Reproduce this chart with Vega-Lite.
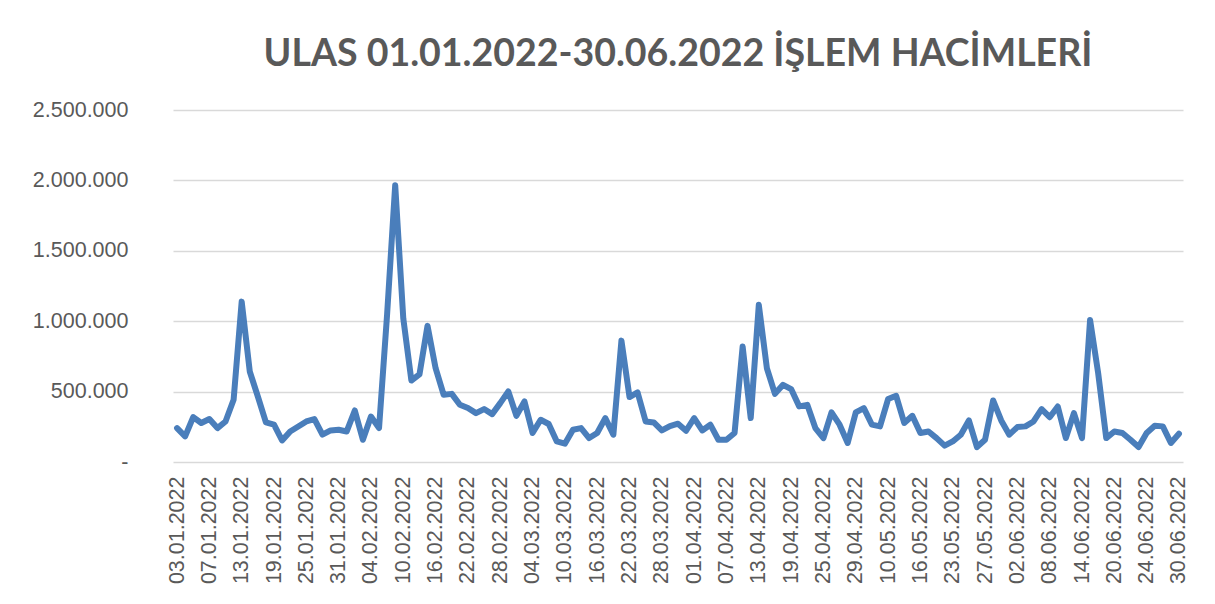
{
  "$schema": "https://vega.github.io/schema/vega-lite/v6.json",
  "width": 1010,
  "height": 352,
  "autosize": {"type": "none"},
  "padding": {"left": 173, "top": 110, "right": 32, "bottom": 142},
  "background": "white",
  "config": {
    "locale": {"number": {"decimal": ",", "thousands": ".", "grouping": [3], "currency": ["", ""]}},
    "view": {"stroke": null}
  },
  "title": {
    "text": "ULAS 01.01.2022-30.06.2022 İŞLEM HACİMLERİ",
    "font": "Lato",
    "fontSize": 37.5,
    "fontWeight": "bold",
    "color": "#595959",
    "anchor": "middle",
    "frame": "group",
    "baseline": "alphabetic",
    "offset": -4
  },
  "data": {
    "values": [
      {"tarih": "03.01.2022", "hacim": 241000},
      {"tarih": "04.01.2022", "hacim": 182000},
      {"tarih": "05.01.2022", "hacim": 319000},
      {"tarih": "06.01.2022", "hacim": 277000},
      {"tarih": "07.01.2022", "hacim": 305000},
      {"tarih": "10.01.2022", "hacim": 241000},
      {"tarih": "11.01.2022", "hacim": 288000},
      {"tarih": "12.01.2022", "hacim": 442000},
      {"tarih": "13.01.2022", "hacim": 1139000},
      {"tarih": "14.01.2022", "hacim": 643000},
      {"tarih": "17.01.2022", "hacim": 465000},
      {"tarih": "18.01.2022", "hacim": 281000},
      {"tarih": "19.01.2022", "hacim": 265000},
      {"tarih": "20.01.2022", "hacim": 153000},
      {"tarih": "21.01.2022", "hacim": 217000},
      {"tarih": "24.01.2022", "hacim": 252000},
      {"tarih": "25.01.2022", "hacim": 288000},
      {"tarih": "26.01.2022", "hacim": 305000},
      {"tarih": "27.01.2022", "hacim": 194000},
      {"tarih": "28.01.2022", "hacim": 224000},
      {"tarih": "31.01.2022", "hacim": 229000},
      {"tarih": "01.02.2022", "hacim": 217000},
      {"tarih": "02.02.2022", "hacim": 366000},
      {"tarih": "03.02.2022", "hacim": 158000},
      {"tarih": "04.02.2022", "hacim": 323000},
      {"tarih": "07.02.2022", "hacim": 241000},
      {"tarih": "08.02.2022", "hacim": 1050000},
      {"tarih": "09.02.2022", "hacim": 1966000},
      {"tarih": "10.02.2022", "hacim": 1020000},
      {"tarih": "11.02.2022", "hacim": 579000},
      {"tarih": "14.02.2022", "hacim": 622000},
      {"tarih": "15.02.2022", "hacim": 967000},
      {"tarih": "16.02.2022", "hacim": 666000},
      {"tarih": "17.02.2022", "hacim": 477000},
      {"tarih": "18.02.2022", "hacim": 484000},
      {"tarih": "21.02.2022", "hacim": 406000},
      {"tarih": "22.02.2022", "hacim": 383000},
      {"tarih": "23.02.2022", "hacim": 347000},
      {"tarih": "24.02.2022", "hacim": 376000},
      {"tarih": "25.02.2022", "hacim": 340000},
      {"tarih": "28.02.2022", "hacim": 418000},
      {"tarih": "01.03.2022", "hacim": 501000},
      {"tarih": "02.03.2022", "hacim": 328000},
      {"tarih": "03.03.2022", "hacim": 430000},
      {"tarih": "04.03.2022", "hacim": 206000},
      {"tarih": "07.03.2022", "hacim": 300000},
      {"tarih": "08.03.2022", "hacim": 270000},
      {"tarih": "09.03.2022", "hacim": 146000},
      {"tarih": "10.03.2022", "hacim": 130000},
      {"tarih": "11.03.2022", "hacim": 229000},
      {"tarih": "14.03.2022", "hacim": 241000},
      {"tarih": "15.03.2022", "hacim": 170000},
      {"tarih": "16.03.2022", "hacim": 206000},
      {"tarih": "17.03.2022", "hacim": 312000},
      {"tarih": "18.03.2022", "hacim": 194000},
      {"tarih": "21.03.2022", "hacim": 862000},
      {"tarih": "22.03.2022", "hacim": 461000},
      {"tarih": "23.03.2022", "hacim": 494000},
      {"tarih": "24.03.2022", "hacim": 288000},
      {"tarih": "25.03.2022", "hacim": 281000},
      {"tarih": "28.03.2022", "hacim": 224000},
      {"tarih": "29.03.2022", "hacim": 255000},
      {"tarih": "30.03.2022", "hacim": 272000},
      {"tarih": "31.03.2022", "hacim": 222000},
      {"tarih": "01.04.2022", "hacim": 312000},
      {"tarih": "04.04.2022", "hacim": 224000},
      {"tarih": "05.04.2022", "hacim": 265000},
      {"tarih": "06.04.2022", "hacim": 158000},
      {"tarih": "07.04.2022", "hacim": 158000},
      {"tarih": "08.04.2022", "hacim": 206000},
      {"tarih": "11.04.2022", "hacim": 820000},
      {"tarih": "12.04.2022", "hacim": 312000},
      {"tarih": "13.04.2022", "hacim": 1116000},
      {"tarih": "14.04.2022", "hacim": 666000},
      {"tarih": "15.04.2022", "hacim": 484000},
      {"tarih": "18.04.2022", "hacim": 548000},
      {"tarih": "19.04.2022", "hacim": 518000},
      {"tarih": "20.04.2022", "hacim": 395000},
      {"tarih": "21.04.2022", "hacim": 406000},
      {"tarih": "22.04.2022", "hacim": 241000},
      {"tarih": "25.04.2022", "hacim": 170000},
      {"tarih": "26.04.2022", "hacim": 352000},
      {"tarih": "27.04.2022", "hacim": 265000},
      {"tarih": "28.04.2022", "hacim": 135000},
      {"tarih": "29.04.2022", "hacim": 352000},
      {"tarih": "05.05.2022", "hacim": 383000},
      {"tarih": "06.05.2022", "hacim": 265000},
      {"tarih": "09.05.2022", "hacim": 253000},
      {"tarih": "10.05.2022", "hacim": 447000},
      {"tarih": "11.05.2022", "hacim": 470000},
      {"tarih": "12.05.2022", "hacim": 277000},
      {"tarih": "13.05.2022", "hacim": 328000},
      {"tarih": "16.05.2022", "hacim": 206000},
      {"tarih": "17.05.2022", "hacim": 217000},
      {"tarih": "18.05.2022", "hacim": 170000},
      {"tarih": "20.05.2022", "hacim": 116000},
      {"tarih": "23.05.2022", "hacim": 146000},
      {"tarih": "24.05.2022", "hacim": 194000},
      {"tarih": "25.05.2022", "hacim": 295000},
      {"tarih": "26.05.2022", "hacim": 106000},
      {"tarih": "27.05.2022", "hacim": 158000},
      {"tarih": "30.05.2022", "hacim": 437000},
      {"tarih": "31.05.2022", "hacim": 295000},
      {"tarih": "01.06.2022", "hacim": 194000},
      {"tarih": "02.06.2022", "hacim": 248000},
      {"tarih": "03.06.2022", "hacim": 253000},
      {"tarih": "06.06.2022", "hacim": 288000},
      {"tarih": "07.06.2022", "hacim": 376000},
      {"tarih": "08.06.2022", "hacim": 318000},
      {"tarih": "09.06.2022", "hacim": 394000},
      {"tarih": "10.06.2022", "hacim": 170000},
      {"tarih": "13.06.2022", "hacim": 347000},
      {"tarih": "14.06.2022", "hacim": 170000},
      {"tarih": "15.06.2022", "hacim": 1009000},
      {"tarih": "16.06.2022", "hacim": 631000},
      {"tarih": "17.06.2022", "hacim": 170000},
      {"tarih": "20.06.2022", "hacim": 217000},
      {"tarih": "21.06.2022", "hacim": 206000},
      {"tarih": "22.06.2022", "hacim": 158000},
      {"tarih": "23.06.2022", "hacim": 106000},
      {"tarih": "24.06.2022", "hacim": 206000},
      {"tarih": "27.06.2022", "hacim": 257000},
      {"tarih": "28.06.2022", "hacim": 253000},
      {"tarih": "29.06.2022", "hacim": 135000},
      {"tarih": "30.06.2022", "hacim": 201000}
    ]
  },
  "mark": {"type": "line", "color": "#4a7ebb", "strokeWidth": 6, "strokeJoin": "round", "strokeCap": "round"},
  "encoding": {
    "x": {
      "field": "tarih",
      "type": "ordinal",
      "sort": null,
      "scale": {"type": "point", "padding": 0.5},
      "axis": {
        "title": null,
        "values": ["03.01.2022", "07.01.2022", "13.01.2022", "19.01.2022", "25.01.2022", "31.01.2022", "04.02.2022", "10.02.2022", "16.02.2022", "22.02.2022", "28.02.2022", "04.03.2022", "10.03.2022", "16.03.2022", "22.03.2022", "28.03.2022", "01.04.2022", "07.04.2022", "13.04.2022", "19.04.2022", "25.04.2022", "29.04.2022", "10.05.2022", "16.05.2022", "23.05.2022", "27.05.2022", "02.06.2022", "08.06.2022", "14.06.2022", "20.06.2022", "24.06.2022", "30.06.2022"],
        "labelAngle": 270,
        "labelFont": "Liberation Sans",
        "labelFontSize": 21.5,
        "labelColor": "#595959",
        "labelPadding": 14,
        "ticks": false,
        "domain": false,
        "grid": false,
        "labelOverlap": false
      }
    },
    "y": {
      "field": "hacim",
      "type": "quantitative",
      "scale": {"domain": [0, 2500000]},
      "axis": {
        "title": null,
        "values": [0, 500000, 1000000, 1500000, 2000000, 2500000],
        "format": ",d",
        "labelExpr": "datum.value == 0 ? '-\u00a0\u00a0' : datum.label",
        "labelFont": "Liberation Sans",
        "labelFontSize": 21.5,
        "labelColor": "#595959",
        "labelPadding": 45,
        "ticks": false,
        "domain": false,
        "grid": true,
        "gridColor": "#d9d9d9",
        "gridWidth": 1.3
      }
    }
  }
}
